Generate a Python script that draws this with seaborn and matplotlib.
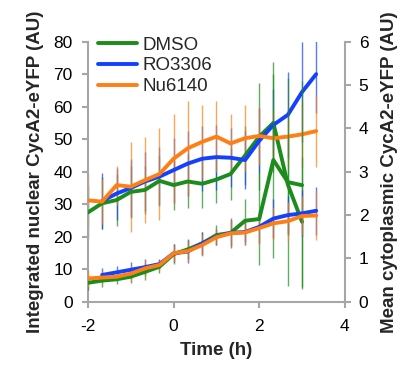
import numpy as np
import pandas as pd
import matplotlib
matplotlib.use("Agg")
import matplotlib.pyplot as plt
import seaborn as sns

# ---------------- data ----------------
time_h = [-2, -1.67, -1.33, -1, -0.67, -0.33, 0, 0.33, 0.67, 1, 1.33, 1.67, 2, 2.33, 2.67, 3, 3.33]
treatments = ["DMSO", "RO3306", "Nu6140"]
nan = np.nan

# Integrated nuclear CycA2-eYFP (left axis, AU)
nuc_dmso = [27.5, 30.3, 31.3, 33.8, 34.4, 37.2, 35.9, 37.0, 36.3, 37.6, 39.3, 45.0, 50.8, 55.0, 36.0, 24.6, nan]
nuc_ro = [nan, 31.0, 33.3, 35.0, 37.0, 38.5, 40.5, 42.5, 44.0, 44.5, 44.3, 43.6, 49.5, 54.4, 57.5, 64.5, 70.0]
nuc_nu = [31.2, 30.8, 35.9, 35.4, 37.4, 39.3, 44.0, 47.2, 49.2, 50.8, 48.7, 50.3, 51.0, 50.3, 50.8, 51.5, 52.5]
nuc_dmso_err = [8, 8, 8, 8, 7.5, 7.5, 7.7, 8.3, 7.6, 7.3, 8, 9, 16.4, 15, 15, 20, nan]
nuc_ro_err = [nan, 8.5, 8, 9, 9, 9, 10, 10, 10, 10, 9, 9, 10, 11, 13.3, 15.3, 12]
nuc_nu_err = [8, 7, 6, 13.8, 13.2, 14, 13.8, 14.6, 11.3, 11, 9, 10.2, 9, 9, 9, 10, 11]

# Mean cytoplasmic CycA2-eYFP (right axis, AU)
cyt_dmso = [0.44, 0.49, 0.52, 0.58, 0.69, 0.81, 1.10, 1.21, 1.35, 1.54, 1.59, 1.87, 1.91, 3.27, 2.76, 2.69, nan]
cyt_ro = [nan, 0.62, 0.68, 0.74, 0.80, 0.87, 1.12, 1.16, 1.35, 1.50, 1.59, 1.61, 1.73, 1.92, 2.00, 2.04, 2.10]
cyt_nu = [0.54, 0.56, 0.58, 0.65, 0.77, 0.85, 1.12, 1.17, 1.31, 1.49, 1.58, 1.60, 1.70, 1.81, 1.86, 1.98, 1.99]
cyt_dmso_err = [0.17, 0.15, 0.11, 0.15, 0.19, 0.15, 0.23, 0.23, 0.26, 0.23, 0.34, 0.49, 1.05, 2.25, 2.4, 2.4, nan]
cyt_ro_err = [nan, 0.15, 0.14, 0.19, 0.19, 0.11, 0.21, 0.26, 0.26, 0.19, 0.30, 0.30, 0.38, 0.45, 0.45, 0.53, 0.55]
cyt_nu_err = [0.19, 0.15, 0.11, 0.19, 0.19, 0.11, 0.19, 0.23, 0.26, 0.19, 0.30, 0.30, 0.38, 0.38, 0.45, 0.45, 0.56]

x_ticks = [-2, 0, 2, 4]
left_ticks = [0, 10, 20, 30, 40, 50, 60, 70, 80]
right_ticks = [0, 1, 2, 3, 4, 5, 6]

colors = {"DMSO": "#1c8c1c", "RO3306": "#1440ff", "Nu6140": "#ff7f15"}


def long_df(series, errs):
    rows = []
    for name, vals, ers in zip(treatments, series, errs):
        for t, v, e in zip(time_h, vals, ers):
            rows.append({"time": t, "value": v, "err": e, "treatment": name})
    return pd.DataFrame(rows).dropna()


nuc_df = long_df([nuc_dmso, nuc_ro, nuc_nu], [nuc_dmso_err, nuc_ro_err, nuc_nu_err])
cyt_df = long_df([cyt_dmso, cyt_ro, cyt_nu], [cyt_dmso_err, cyt_ro_err, cyt_nu_err])

# ---------------- style ----------------
sns.set_style("ticks")
plt.rcParams["font.family"] = ["Liberation Sans", "DejaVu Sans"]
spine_col = "#a6a6a6"

fig = plt.figure(figsize=(4.13, 3.65), dpi=100)
ax = fig.add_axes([0.213, 0.173, 0.622, 0.713])
ax2 = ax.twinx()

# error bars (thin vertical lines)
for name in treatments:
    d = nuc_df[nuc_df.treatment == name]
    ax.vlines(d.time, d.value - d.err, d.value + d.err, color=colors[name],
              lw=1.0, alpha=0.7, zorder=1)
    d2 = cyt_df[cyt_df.treatment == name]
    ax2.vlines(d2.time, d2.value - d2.err, d2.value + d2.err, color=colors[name],
               lw=1.0, alpha=0.7, zorder=1)

sns.lineplot(data=nuc_df, x="time", y="value", hue="treatment", hue_order=treatments,
             palette=colors, estimator=None, lw=2.8, ax=ax, legend=True, zorder=3)
sns.lineplot(data=cyt_df, x="time", y="value", hue="treatment", hue_order=treatments,
             palette=colors, estimator=None, lw=2.8, ax=ax2, legend=False, zorder=3)

ax.set_xlim(-2, 4)
ax.set_ylim(0, 80)
ax2.set_ylim(0, 6)
ax.set_xticks(x_ticks)
ax.set_xticklabels([str(v) for v in x_ticks])
ax.set_yticks(left_ticks)
ax2.set_yticks(right_ticks)

ax.set_xlabel("Time (h)", fontsize=13.5, fontweight="bold", labelpad=6)
ax.set_ylabel("Integrated nuclear CycA2-eYFP (AU)", fontsize=13.5, fontweight="bold", labelpad=7)
ax2.set_ylabel("Mean cytoplasmic CycA2-eYFP (AU)", fontsize=13.5, fontweight="bold",
               labelpad=9, rotation=90)

for a in (ax, ax2):
    for s in a.spines.values():
        s.set_color(spine_col)
        s.set_linewidth(1.5)
    a.spines["top"].set_visible(False)
    a.tick_params(colors=spine_col, labelcolor="black", labelsize=12.5, width=1.5, length=4)
ax.spines["right"].set_visible(False)
ax2.spines["left"].set_visible(False)
ax2.spines["bottom"].set_visible(False)
ax.tick_params(axis="y", pad=7)
ax.tick_params(axis="x", pad=8)
ax2.tick_params(axis="y", pad=6)

handles, labels = ax.get_legend_handles_labels()
ax.legend(handles, labels, loc="upper left", bbox_to_anchor=(0.039, 1.02), frameon=False,
          fontsize=13.5, handlelength=2.1, handletextpad=0.25, labelspacing=0.2,
          borderaxespad=0, borderpad=0)

fig.savefig("out.png", dpi=100)
